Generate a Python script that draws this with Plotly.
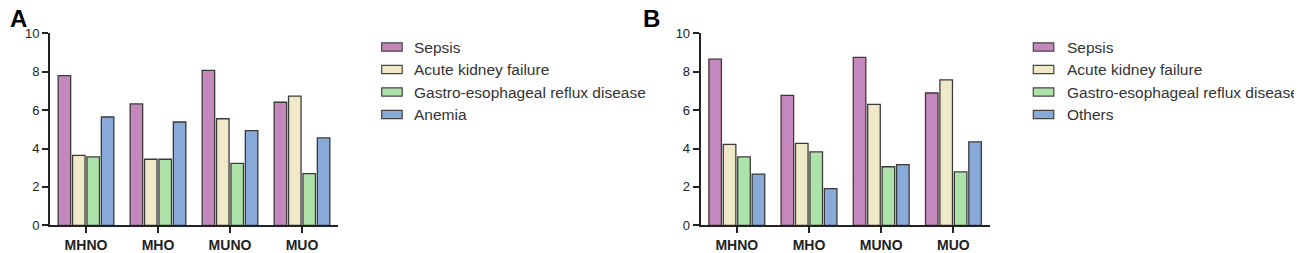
import plotly.graph_objects as go

categories = ["MHNO", "MHO", "MUNO", "MUO"]
series_a = ["Sepsis", "Acute kidney failure", "Gastro-esophageal reflux disease", "Anemia"]
series_b = ["Sepsis", "Acute kidney failure", "Gastro-esophageal reflux disease", "Others"]

a_sepsis = [7.8, 6.32, 8.07, 6.41]
a_akf = [3.64, 3.44, 5.55, 6.73]
a_gerd = [3.56, 3.44, 3.23, 2.69]
a_anemia = [5.64, 5.38, 4.93, 4.55]

b_sepsis = [8.65, 6.77, 8.75, 6.89]
b_akf = [4.22, 4.27, 6.30, 7.57]
b_gerd = [3.56, 3.82, 3.05, 2.78]
b_others = [2.67, 1.91, 3.16, 4.34]

y_ticks = [0, 2, 4, 6, 8, 10]
colors = ["#C588BC", "#F0E9C8", "#ADE2A9", "#87AAD8"]
outline = "#3a3a3a"

# page body has an 8px margin; figure placed at (8, 8) and runs to the window edge
OX, OY = 8, 8
W, H = 1302 - OX, 253 - OY


def px(x):
    return (x - OX) / W


def py(y):
    return 1 - (y - OY) / H


fig = go.Figure()

panels = [
    ("x", "y", [a_sepsis, a_akf, a_gerd, a_anemia], series_a),
    ("x2", "y2", [b_sepsis, b_akf, b_gerd, b_others], series_b),
]
for xa, ya, vals, names in panels:
    for v, n, c in zip(vals, names, colors):
        fig.add_trace(go.Bar(
            x=categories, y=v, name=n, xaxis=xa, yaxis=ya,
            marker=dict(color=c, line=dict(color=outline, width=1.3)),
            showlegend=False,
        ))

ydom = [py(225.3), py(33.3)]
axis_common = dict(showgrid=False, zeroline=False, showline=True, linecolor="#222", linewidth=2,
                   ticks="outside", tickcolor="#222", tickwidth=2, ticklen=6, automargin=False)
xfont = dict(size=14, family="Liberation Sans, Arial", color="#222")
yfont = dict(size=13, family="Liberation Sans, Arial", color="#222")
fig.update_layout(
    width=W, height=H, margin=dict(l=0, r=0, t=0, b=0, pad=0, autoexpand=False),
    paper_bgcolor="white", plot_bgcolor="white",
    barmode="group", bargap=0.2, bargroupgap=0.13,
    font=dict(family="Liberation Sans, Arial", color="#222"),
    xaxis=dict(domain=[px(50), px(338)], range=[-0.5, 3.5], anchor="y", tickfont=xfont, **axis_common),
    yaxis=dict(domain=ydom, range=[0, 10], anchor="x", tickvals=y_ticks, tickfont=yfont, **axis_common),
    xaxis2=dict(domain=[px(700.7), px(989.5)], range=[-0.5, 3.5], anchor="y2", tickfont=xfont, **axis_common),
    yaxis2=dict(domain=ydom, range=[0, 10], anchor="x2", tickvals=y_ticks, tickfont=yfont, **axis_common),
)
fig.update_xaxes(tickprefix="<b>", ticksuffix="</b>")
fig.update_yaxes(tickprefix="<b>", ticksuffix="</b>")

# Panel labels
for lbl, lx in [("A", 9), ("B", 642)]:
    fig.add_annotation(text=f"<b>{lbl}</b>", x=px(lx), y=py(19), xref="paper", yref="paper",
                       xanchor="left", yanchor="middle", showarrow=False, borderpad=0,
                       font=dict(size=24, family="Liberation Sans, Arial", color="black"))

# Manual legends
row_y = [47, 69.5, 92, 114.5]
for names, sx, tx in [(series_a, 381.7, 412), (series_b, 1033.3, 1065)]:
    for n, c, ry in zip(names, colors, row_y):
        fig.add_shape(type="rect", xref="paper", yref="paper",
                      x0=px(sx), x1=px(sx + 20.5), y0=py(ry + 4.2), y1=py(ry - 4.2),
                      fillcolor=c, line=dict(color="#444", width=1.2))
        fig.add_annotation(text=n, x=px(tx), y=py(ry), xref="paper", yref="paper",
                           xanchor="left", yanchor="middle", showarrow=False,
                           font=dict(size=15.5, family="Liberation Sans, Arial", color="#333"))

fig.write_html("out.html")
